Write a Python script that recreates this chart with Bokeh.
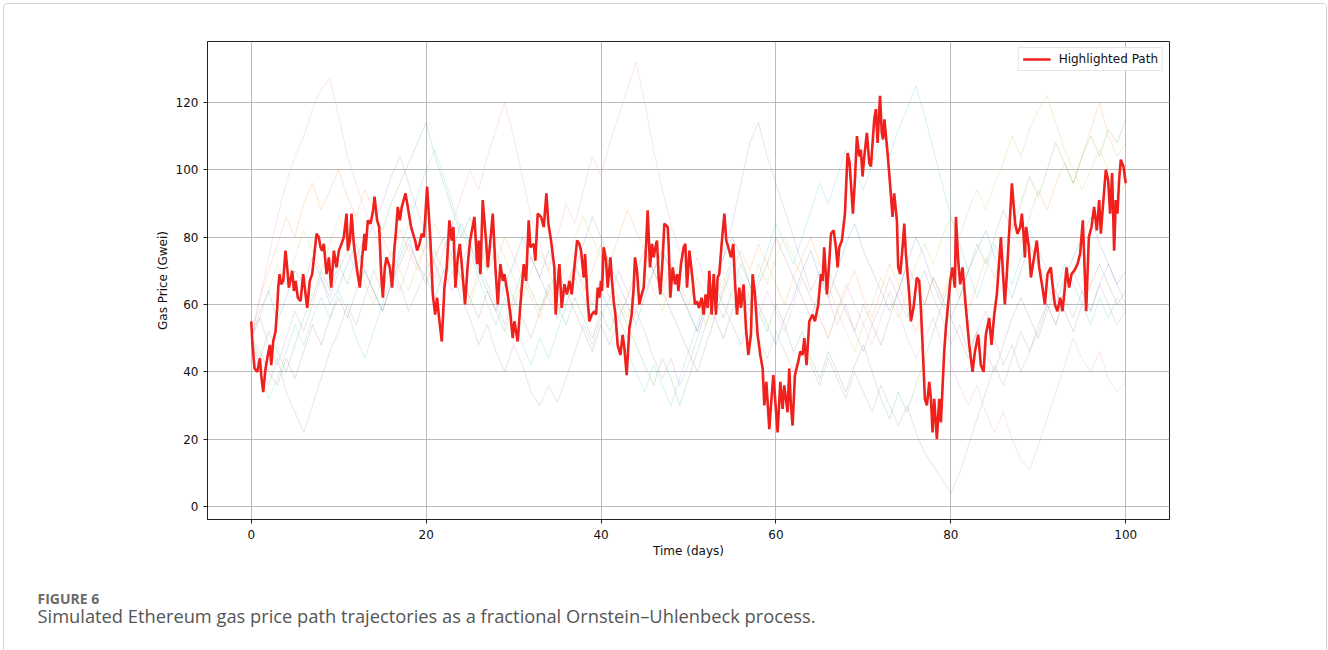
import numpy as np
from bokeh.plotting import figure
from bokeh.layouts import column
from bokeh.models import Range1d, FixedTicker, Legend, LegendItem
from bokeh.core.properties import value
from bokeh.embed import file_html
from bokeh.resources import INLINE

# ---------------- data ----------------
x_ticks = [0, 20, 40, 60, 80, 100]
y_ticks = [0, 20, 40, 60, 80, 100, 120]

red_days = [0.0, 0.15, 0.38, 0.69, 0.99, 1.14, 1.37, 1.64, 1.90, 2.13, 2.29, 2.51, 2.78, 2.97, 3.09, 3.24, 3.43, 3.66, 3.92, 4.11,
            4.30, 4.69, 4.88, 5.07, 5.33, 5.64, 5.94, 6.40, 6.70, 6.97, 7.47, 7.73, 7.92, 8.11, 8.30, 8.61, 8.88, 9.14, 9.45, 9.75,
            10.02, 10.32, 10.59, 10.90, 11.05, 11.28, 11.47, 11.73, 12.11, 12.42, 12.69, 12.95, 13.07, 13.33, 13.64, 13.94, 14.10, 14.40, 14.63, 14.86,
            15.05, 15.28, 15.47, 15.85, 16.11, 16.38, 16.53, 16.76, 16.99, 17.22, 17.64, 17.90, 18.09, 18.28, 18.74, 18.97, 19.24, 19.50, 19.73, 19.88,
            20.11, 20.49, 20.76, 21.03, 21.25, 21.44, 21.79, 22.09, 22.36, 22.66, 22.93, 23.12, 23.35, 23.62, 23.85, 24.07, 24.45, 24.76, 25.03, 25.52,
            25.83, 26.02, 26.21, 26.47, 26.85, 27.05, 27.35, 27.62, 27.92, 28.19, 28.49, 28.76, 28.95, 29.33, 29.64, 29.90, 30.09, 30.47, 30.78, 31.16,
            31.43, 31.73, 31.92, 32.30, 32.49, 32.76, 33.14, 33.45, 33.75, 33.98, 34.28, 34.66, 34.82, 35.04, 35.24, 35.50, 35.81, 36.11, 36.38, 36.65,
            36.95, 37.26, 37.52, 37.71, 38.02, 38.17, 38.48, 38.67, 38.93, 39.24, 39.43, 39.62, 39.81, 40.00, 40.11, 40.30, 40.57, 40.76, 41.07, 41.22,
            41.45, 41.64, 41.90, 42.21, 42.47, 42.67, 42.93, 43.24, 43.50, 43.73, 43.88, 44.11, 44.38, 44.65, 44.88, 45.14, 45.33, 45.60, 45.83, 46.02,
            46.29, 46.40, 46.59, 46.78, 47.05, 47.24, 47.62, 47.73, 47.92, 48.19, 48.46, 48.70, 48.84, 49.14, 49.45, 49.64, 49.83, 50.10, 50.48, 50.74,
            50.97, 51.20, 51.50, 51.73, 51.96, 52.19, 52.38, 52.65, 52.88, 53.14, 53.33, 53.52, 53.79, 54.10, 54.32, 54.55, 54.86, 55.12, 55.31, 55.54,
            55.81, 56.00, 56.30, 56.57, 56.84, 57.14, 57.33, 57.60, 57.90, 58.21, 58.48, 58.67, 58.90, 59.24, 59.43, 59.70, 60.19, 60.50, 60.76, 60.95,
            61.33, 61.52, 61.71, 61.90, 62.17, 62.55, 62.78, 63.05, 63.24, 63.50, 63.81, 64.19, 64.46, 64.84, 65.14, 65.33, 65.52, 65.83, 66.10, 66.29,
            66.59, 66.86, 67.05, 67.24, 67.54, 67.89, 68.19, 68.42, 68.80, 69.03, 69.26, 69.52, 69.71, 69.90, 70.10, 70.40, 70.67, 70.86, 71.24, 71.43,
            71.62, 71.90, 72.10, 72.25, 72.40, 72.76, 73.07, 73.33, 73.52, 73.83, 73.98, 74.21, 74.48, 74.67, 74.86, 75.24, 75.43, 75.73, 76.11, 76.38,
            76.57, 76.85, 77.03, 77.26, 77.53, 77.72, 77.91, 78.10, 78.40, 78.67, 78.86, 79.24, 79.43, 79.93, 80.19, 80.46, 80.58, 80.84, 81.07, 81.34,
            81.72, 82.10, 82.48, 82.75, 83.13, 83.43, 83.74, 84.00, 84.38, 84.65, 84.96, 85.26, 85.72, 86.17, 86.40, 86.98, 87.35, 87.62, 87.93, 88.12,
            88.31, 88.46, 88.61, 88.92, 89.15, 89.45, 89.83, 90.10, 90.48, 90.75, 91.05, 91.43, 91.62, 91.89, 92.19, 92.50, 92.77, 93.03, 93.22, 93.41,
            93.53, 93.79, 94.10, 94.48, 94.78, 95.09, 95.47, 95.78, 96.08, 96.38, 96.69, 96.96, 97.15, 97.38, 97.72, 97.98, 98.21, 98.44, 98.67, 98.86,
            99.05, 99.24, 99.43, 99.73, 100.0]
red_gwei = [55, 48, 41, 40, 44, 39, 34, 41, 45, 48, 42, 49, 52, 59, 65, 69, 66, 67, 76, 71,
            65, 70, 64, 67, 62, 61, 69, 59, 67, 69, 81, 80, 77, 76, 78, 69, 74, 65, 76, 71,
            76, 78, 80, 87, 76, 79, 87, 78, 70, 65, 74, 81, 76, 85, 84, 88, 92, 85, 83, 69,
            62, 71, 74, 71, 65, 77, 81, 89, 85, 89, 93, 89, 86, 83, 79, 76, 78, 81, 80, 85,
            95, 79, 63, 57, 62, 57, 49, 65, 71, 85, 79, 83, 65, 74, 78, 72, 60, 72, 79, 86,
            72, 79, 69, 91, 79, 71, 79, 87, 71, 60, 72, 67, 69, 63, 57, 50, 55, 49, 60, 72,
            67, 85, 77, 78, 73, 87, 86, 83, 93, 84, 79, 71, 57, 66, 72, 59, 66, 63, 67, 63,
            71, 79, 78, 76, 68, 75, 61, 55, 57, 58, 57, 65, 62, 67, 64, 77, 73, 65, 74, 68,
            61, 57, 48, 45, 51, 47, 39, 53, 57, 65, 74, 70, 60, 63, 65, 77, 88, 71, 78, 74,
            78, 79, 68, 63, 74, 84, 83, 78, 62, 71, 66, 69, 64, 72, 77, 78, 65, 76, 67, 60,
            61, 59, 62, 57, 63, 59, 70, 57, 69, 57, 68, 69, 78, 87, 79, 77, 74, 78, 67, 57,
            65, 59, 66, 53, 45, 51, 69, 63, 51, 45, 41, 30, 37, 23, 30, 39, 22, 37, 29, 36,
            28, 41, 30, 24, 39, 43, 46, 45, 50, 42, 55, 57, 55, 60, 69, 67, 77, 63, 73, 81,
            82, 77, 71, 77, 79, 87, 105, 102, 87, 97, 110, 104, 106, 98, 104, 111, 102, 101, 115, 118,
            108, 122, 111, 109, 115, 105, 95, 86, 93, 85, 71, 69, 77, 84, 75, 63, 55, 59, 68, 67,
            59, 43, 32, 30, 37, 32, 22, 32, 20, 32, 25, 46, 53, 67, 71, 65, 86, 73, 66, 71,
            59, 48, 40, 46, 51, 42, 40, 51, 56, 48, 57, 63, 80, 60, 69, 96, 84, 81, 83, 87,
            81, 74, 83, 77, 68, 73, 79, 71, 65, 60, 69, 71, 66, 60, 58, 62, 58, 65, 71, 67,
            65, 69, 70, 72, 75, 85, 58, 80, 83, 89, 82, 91, 81, 89, 100, 97, 87, 99, 76, 91,
            87, 97, 103, 101, 96]

# faint background simulated paths (one value per day, day 0 .. 100)
path_blue = [50, 58, 64, 55, 62, 70, 66, 74, 68, 60, 65, 72, 78, 70, 64, 58, 66, 74, 80, 72, 68, 62, 70, 76, 84, 78, 70, 64, 58, 66, 72, 80, 74, 68, 62, 56, 64, 70, 78, 86, 80, 72, 66, 60, 54, 62, 70, 76, 70, 64, 58, 52, 60, 68, 74, 80, 74, 66, 60, 54, 48, 56, 62, 70, 76, 68, 62, 70, 78, 84, 76, 70, 64, 58, 64, 72, 80, 74, 66, 60, 56, 62, 70, 76, 82, 74, 68, 62, 70, 78, 72, 66, 60, 68, 74, 80, 86, 78, 72, 66, 70]
path_orange = [50, 62, 70, 78, 86, 80, 90, 96, 88, 94, 100, 92, 86, 94, 88, 80, 74, 82, 76, 70, 78, 72, 66, 74, 68, 62, 70, 78, 72, 80, 74, 68, 62, 56, 64, 58, 66, 72, 64, 70, 78, 72, 80, 88, 82, 76, 70, 64, 72, 66, 60, 68, 62, 56, 64, 70, 76, 70, 78, 72, 66, 60, 68, 74, 80, 72, 66, 58, 64, 70, 62, 56, 64, 72, 66, 58, 52, 60, 68, 62, 70, 64, 58, 66, 74, 68, 76, 84, 78, 86, 94, 88, 96, 102, 96, 104, 112, 120, 110, 104, 108]
path_green = [50, 44, 52, 46, 40, 48, 56, 62, 70, 64, 72, 66, 74, 80, 88, 82, 90, 96, 102, 108, 114, 104, 96, 88, 80, 86, 78, 70, 76, 68, 62, 70, 64, 58, 66, 60, 54, 62, 56, 50, 58, 52, 60, 54, 48, 42, 36, 44, 38, 30, 38, 46, 54, 62, 56, 64, 72, 66, 58, 52, 60, 54, 46, 52, 44, 38, 46, 40, 34, 42, 48, 40, 32, 26, 34, 28, 36, 44, 52, 60, 68, 62, 70, 78, 72, 80, 88, 82, 90, 98, 92, 100, 108, 102, 96, 104, 110, 104, 112, 108, 115]
path_purple = [50, 56, 48, 42, 50, 58, 52, 60, 68, 62, 70, 76, 70, 78, 84, 90, 98, 104, 96, 88, 80, 72, 64, 70, 62, 56, 48, 54, 46, 40, 48, 42, 34, 30, 36, 31, 38, 46, 54, 48, 56, 62, 70, 64, 58, 52, 44, 38, 44, 36, 42, 50, 58, 66, 74, 84, 96, 108, 114, 104, 96, 88, 80, 72, 64, 70, 62, 54, 60, 52, 46, 54, 60, 68, 62, 56, 64, 70, 62, 56, 48, 54, 46, 52, 58, 50, 42, 48, 40, 46, 52, 60, 54, 62, 70, 64, 58, 66, 72, 66, 60]
path_brown = [50, 46, 40, 36, 44, 38, 46, 54, 48, 56, 62, 56, 64, 70, 64, 58, 66, 72, 78, 72, 66, 74, 80, 74, 68, 62, 56, 64, 58, 52, 60, 66, 74, 68, 76, 70, 64, 58, 52, 46, 54, 48, 56, 62, 70, 76, 70, 64, 58, 52, 46, 40, 48, 56, 50, 58, 64, 58, 66, 72, 80, 74, 68, 62, 56, 64, 70, 64, 58, 52, 60, 54, 48, 56, 64, 72, 66, 60, 68, 62, 56, 50, 44, 52, 46, 40, 48, 56, 62, 56, 50, 58, 64, 58, 52, 60, 66, 72, 66, 60, 64]
path_pink = [50, 62, 74, 86, 96, 104, 110, 118, 124, 127, 116, 104, 96, 88, 82, 76, 70, 64, 72, 80, 74, 68, 76, 84, 92, 100, 94, 104, 112, 120, 110, 98, 86, 78, 70, 80, 90, 84, 94, 104, 98, 108, 116, 124, 132, 120, 106, 94, 84, 76, 68, 74, 66, 58, 66, 74, 68, 62, 56, 64, 58, 52, 60, 68, 62, 56, 50, 58, 66, 60, 54, 48, 56, 64, 58, 50, 44, 50, 56, 48, 42, 36, 30, 36, 28, 22, 28, 20, 14, 11, 18, 26, 34, 42, 50, 44, 40, 46, 38, 34, 37]
path_gray = [50, 42, 36, 44, 34, 28, 22, 30, 38, 46, 52, 60, 54, 62, 70, 64, 72, 66, 58, 64, 70, 76, 70, 64, 72, 78, 72, 66, 60, 54, 62, 56, 50, 58, 64, 70, 64, 72, 66, 60, 68, 62, 56, 50, 58, 64, 70, 76, 70, 64, 58, 52, 60, 66, 60, 54, 48, 56, 50, 44, 52, 46, 40, 48, 42, 36, 44, 38, 32, 40, 34, 28, 36, 30, 24, 30, 22, 16, 12, 8, 4, 10, 18, 26, 34, 42, 36, 44, 52, 46, 54, 60, 54, 62, 56, 64, 58, 66, 60, 54, 58]
path_olive = [50, 56, 64, 72, 66, 74, 82, 76, 70, 78, 86, 80, 72, 66, 60, 68, 76, 70, 64, 72, 78, 84, 78, 72, 66, 60, 68, 74, 80, 74, 68, 62, 70, 76, 70, 64, 72, 80, 86, 80, 74, 68, 62, 56, 64, 70, 64, 58, 66, 72, 66, 60, 54, 62, 68, 62, 56, 64, 72, 66, 74, 80, 74, 68, 62, 56, 50, 58, 52, 46, 54, 60, 68, 62, 56, 64, 72, 78, 72, 80, 86, 80, 88, 94, 88, 96, 102, 110, 104, 112, 118, 122, 114, 106, 100, 94, 100, 106, 100, 92, 96]
path_cyan = [50, 40, 32, 38, 46, 54, 48, 56, 62, 56, 64, 58, 50, 44, 52, 60, 68, 76, 84, 92, 100, 106, 98, 90, 82, 76, 68, 60, 54, 62, 56, 48, 42, 50, 44, 52, 60, 68, 62, 56, 64, 58, 52, 46, 40, 34, 42, 36, 30, 38, 46, 54, 62, 56, 64, 72, 66, 60, 68, 76, 84, 78, 72, 80, 88, 96, 90, 98, 106, 100, 94, 102, 110, 104, 112, 118, 125, 116, 106, 96, 86, 78, 70, 62, 70, 78, 72, 66, 74, 82, 76, 70, 64, 72, 66, 60, 54, 62, 56, 62, 58]

bg_paths = [path_blue, path_orange, path_green, path_purple, path_brown,
            path_pink, path_gray, path_olive, path_cyan]
bg_colors = ["#1f77b4", "#ff7f0e", "#2ca02c", "#9467bd", "#8c564b",
             "#e377c2", "#7f7f7f", "#bcbd22", "#17becf"]

caption_head = "FIGURE 6"
caption_text = "Simulated Ethereum gas price path trajectories as a fractional Ornstein\u2013Uhlenbeck process."

# ---------------- main chart ----------------
FONT = "DejaVu Sans"
p = figure(width=1322, height=570, output_backend="svg", toolbar_location=None,
           x_range=Range1d(-5, 105), y_range=Range1d(-3.86, 138.1),
           min_border_left=203, min_border_right=157, min_border_top=37,
           min_border_bottom=55)
p.frame_align = False
p.background_fill_color = "white"
p.border_fill_color = "white"
p.outline_line_color = "#222222"
p.outline_line_width = 1

for vals, col in zip(bg_paths, bg_colors):
    days = np.linspace(0, 100, len(vals))
    p.line(days, vals, line_color=col, line_width=0.9, line_alpha=0.22)

red = p.line(red_days, red_gwei, line_color="#f0201c", line_width=2.6)

for ax in (p.xaxis[0], p.yaxis[0]):
    ax.axis_line_color = "#222222"
    ax.major_tick_line_color = "#222222"
    ax.major_tick_out = 4
    ax.major_tick_in = 0
    ax.minor_tick_line_color = None
    ax.major_label_text_font = FONT
    ax.major_label_text_font_size = "12px"
    ax.major_label_text_color = "#111111"
    ax.axis_label_text_font = FONT
    ax.axis_label_text_font_size = "12px"
    ax.axis_label_text_font_style = "normal"
    ax.axis_label_text_color = "#111111"

p.xaxis.ticker = FixedTicker(ticks=x_ticks)
p.yaxis.ticker = FixedTicker(ticks=y_ticks)
p.xaxis.axis_label = "Time (days)"
p.yaxis.axis_label = "Gas Price (Gwei)"
p.xaxis.major_label_standoff = 6
p.xaxis.axis_label_standoff = 2
p.yaxis.major_label_standoff = 5
p.yaxis.axis_label_standoff = 3

p.grid.grid_line_color = "#b0b0b0"
p.grid.grid_line_width = 1
p.grid.grid_line_alpha = 0.85

legend = Legend(items=[LegendItem(label="Highlighted Path", renderers=[red])],
                location="top_right")
legend.label_text_font = FONT
legend.label_text_font_size = "12px"
legend.label_text_color = "#111111"
legend.border_line_color = "#cccccc"
legend.border_line_width = 1
legend.background_fill_alpha = 0.85
legend.glyph_width = 28
legend.glyph_height = 14
legend.label_height = 14
legend.label_standoff = 8
legend.padding = 4
legend.spacing = 0
legend.margin = 6
p.add_layout(legend)

# ---------------- caption strip ----------------
c = figure(width=1322, height=90, output_backend="svg", toolbar_location=None,
           x_range=Range1d(0, 1322), y_range=Range1d(90, 0),
           x_axis_location=None, y_axis_location=None, min_border=0)
c.frame_align = False
c.outline_line_color = None
c.grid.visible = False
c.background_fill_color = "white"
c.border_fill_color = "white"
c.text(x=[33], y=[24], text=[caption_head], text_font=value("Open Sans"),
       text_font_size="14px", text_font_style="bold", text_color="#6b6b6b",
       text_baseline="middle", text_align="left")
c.text(x=[33], y=[41], text=[caption_text], text_font=value("Open Sans"),
       text_font_size="18.3px", text_color="#555555",
       text_baseline="middle", text_align="left")

layout = column(p, c, spacing=0,
                styles={"border": "1px solid #d2d2d2", "border-radius": "4px",
                        "margin-left": "3px", "margin-top": "3px"})

open("out.html", "w").write(file_html(layout, INLINE))
